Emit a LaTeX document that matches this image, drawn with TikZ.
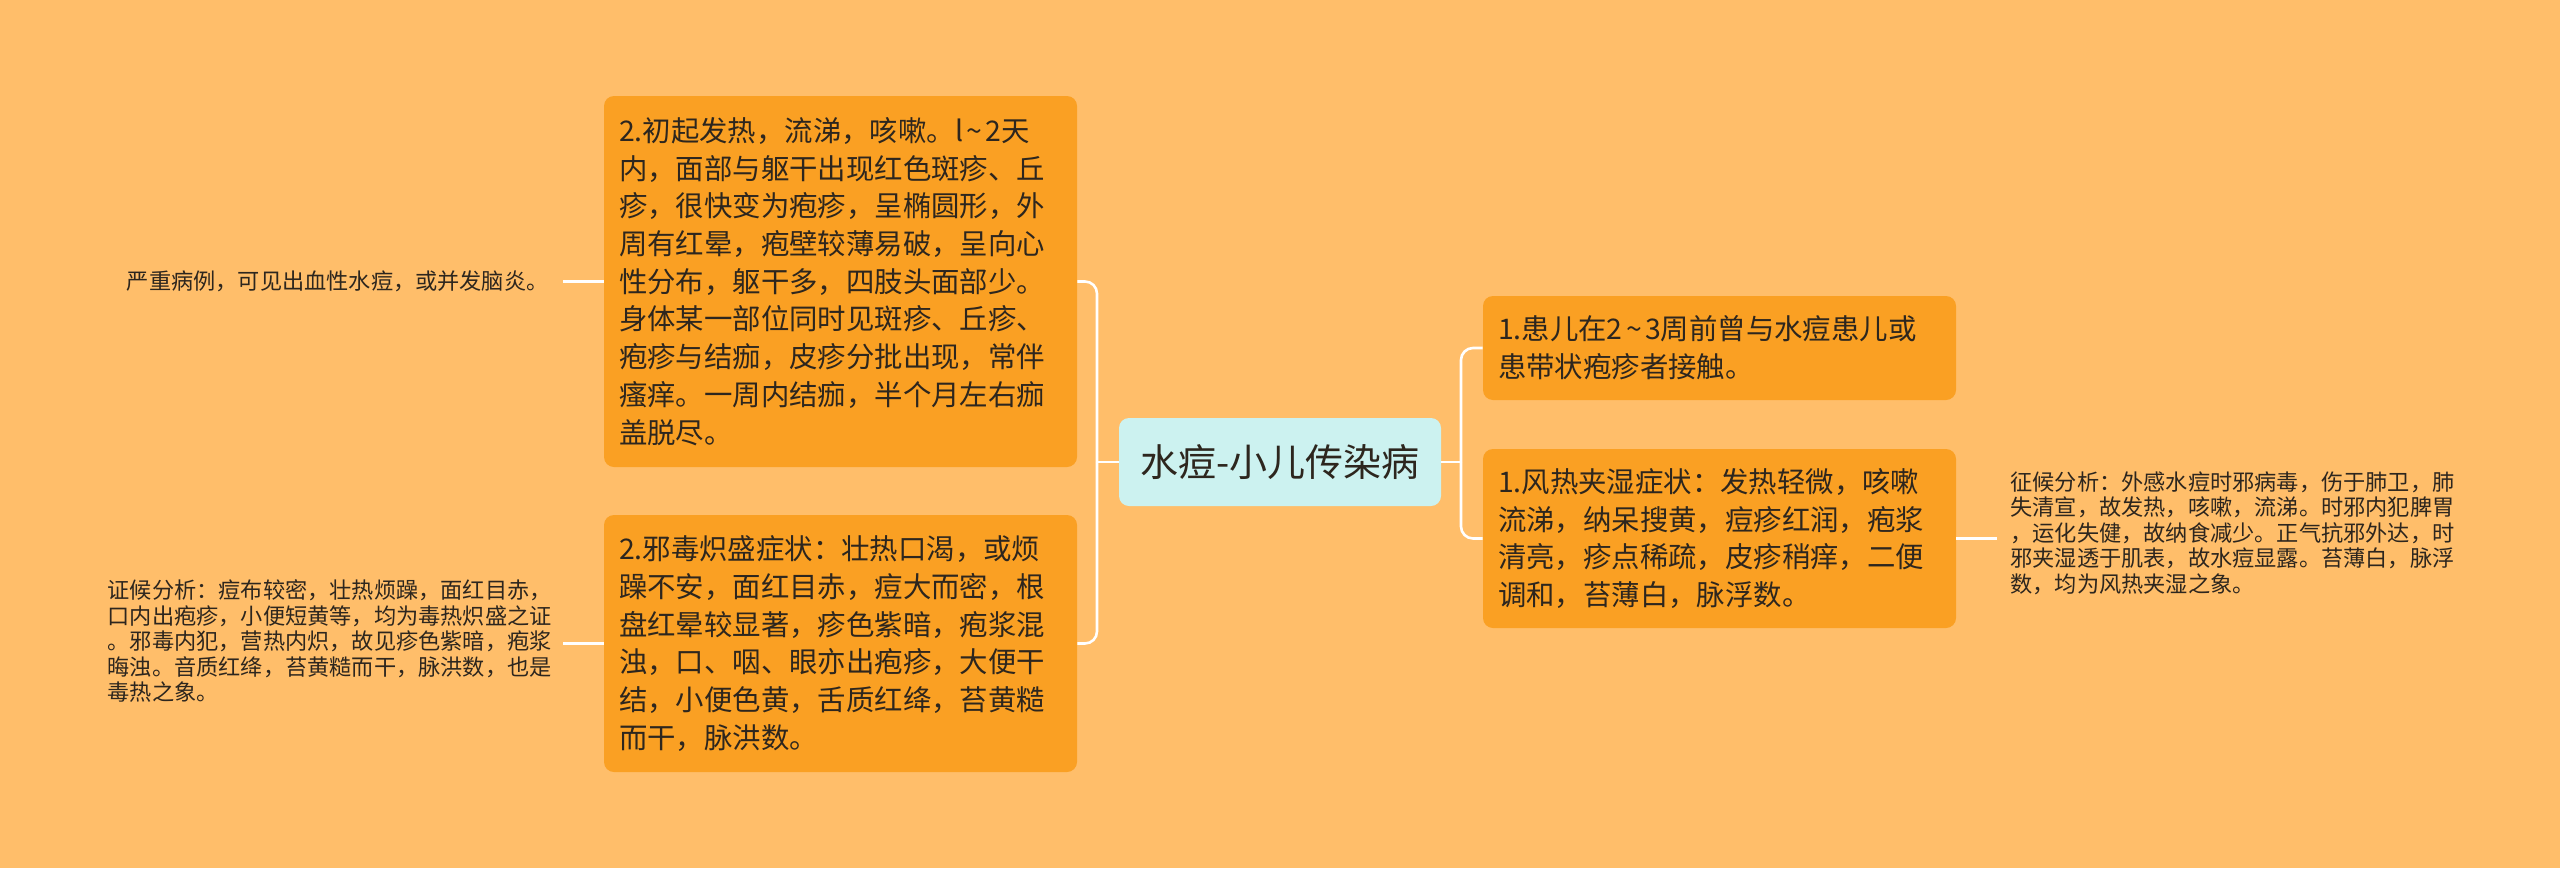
\documentclass[tikz,border=0pt]{standalone}
\usepackage{fontspec}
\setmainfont{Noto Sans CJK SC}
\definecolor{bgc}{RGB}{255,190,106}
\definecolor{boxc}{RGB}{250,160,35}
\definecolor{cenc}{RGB}{204,242,240}
\definecolor{txtc}{RGB}{45,38,30}
\newcommand{\tld}{\hspace{0.12em}{\char"7E}\hspace{0.12em}}
\tikzset{
  boxnode/.style={fill=boxc, rounded corners=5pt, text width=221.5pt, inner xsep=7.5pt, inner ysep=0pt,
    align=left, font=\fontsize{14.2}{18.85}\selectfont, text=txtc, minimum width=236.5pt},
  cennode/.style={fill=cenc, rounded corners=5pt, minimum width=161pt, minimum height=44pt, inner sep=0pt,
    font=\fontsize{19}{22}\selectfont, text=txtc},
  smalltext/.style={align=left, font=\fontsize{11.1}{12.75}\selectfont, text=txtc, inner ysep=0pt},
  conn/.style={draw=white, line width=1.3pt, rounded corners=6pt}
}
\begin{document}
\begin{tikzpicture}[x=0.5pt,y=-0.5pt]
\fill[bgc] (0,0) rectangle (2560,868);
\useasboundingbox (0,0) rectangle (2560,868);

\node[cennode] (c) at (1280,462) {水痘-小儿传染病};

\node[boxnode, minimum height=185.5pt] (lt) at (840.5,281.5) {2.初起发热，流涕，咳嗽。l\tld 2天\\内，面部与躯干出现红色斑疹、丘\\疹，很快变为疱疹，呈椭圆形，外\\周有红晕，疱壁较薄易破，呈向心\\性分布，躯干多，四肢头面部少。\\身体某一部位同时见斑疹、丘疹、\\疱疹与结痂，皮疹分批出现，常伴\\瘙痒。一周内结痂，半个月左右痂\\盖脱尽。};

\node[boxnode, minimum height=128.5pt] (lb) at (840.5,643.5) {2.邪毒炽盛症状：壮热口渴，或烦\\躁不安，面红目赤，痘大而密，根\\盘红晕较显著，疹色紫暗，疱浆混\\浊，口、咽、眼亦出疱疹，大便干\\结，小便色黄，舌质红绛，苔黄糙\\而干，脉洪数。};

\node[boxnode, minimum height=52pt] (rt) at (1719.5,348) {1.患儿在2\tld 3周前曾与水痘患儿或\\患带状疱疹者接触。};

\node[boxnode, minimum height=89.5pt] (rb) at (1719.5,538.5) {1.风热夹湿症状：发热轻微，咳嗽\\流涕，纳呆搜黄，痘疹红润，疱浆\\清亮，疹点稀疏，皮疹稍痒，二便\\调和，苔薄白，脉浮数。};

\node[smalltext, anchor=east, inner xsep=7pt] (tl) at (563,281) {严重病例，可见出血性水痘，或并发脑炎。};

\node[smalltext, anchor=east, inner xsep=5.5pt] (bl) at (563,641) {证候分析：痘布较密，壮热烦躁，面红目赤，\\口内出疱疹，小便短黄等，均为毒热炽盛之证\\。邪毒内犯，营热内炽，故见疹色紫暗，疱浆\\晦浊。音质红绛，苔黄糙而干，脉洪数，也是\\毒热之象。};

\node[smalltext, anchor=west, inner xsep=6.5pt] (rr) at (1997,533) {征候分析：外感水痘时邪病毒，伤于肺卫，肺\\失清宣，故发热，咳嗽，流涕。时邪内犯脾胃\\，运化失健，故纳食减少。正气抗邪外达，时\\邪夹湿透于肌表，故水痘显露。苔薄白，脉浮\\数，均为风热夹湿之象。};

\coordinate (jl) at (1097,462);
\coordinate (jr) at (1461,462);

\draw[conn] (lt.east) -| (jl);
\draw[conn] (lb.east) -| (jl);
\draw[conn] (jl) -- (c.west);
\draw[conn] (rt.west) -| (jr);
\draw[conn] (rb.west) -| (jr);
\draw[conn] (jr) -- (c.east);

\draw[conn] (lt.west) -- (lt.west -| tl.east);
\draw[conn] (lb.west) -- (lb.west -| bl.east);
\draw[conn] (rb.east) -- (rb.east -| rr.west);
\end{tikzpicture}
\end{document}
